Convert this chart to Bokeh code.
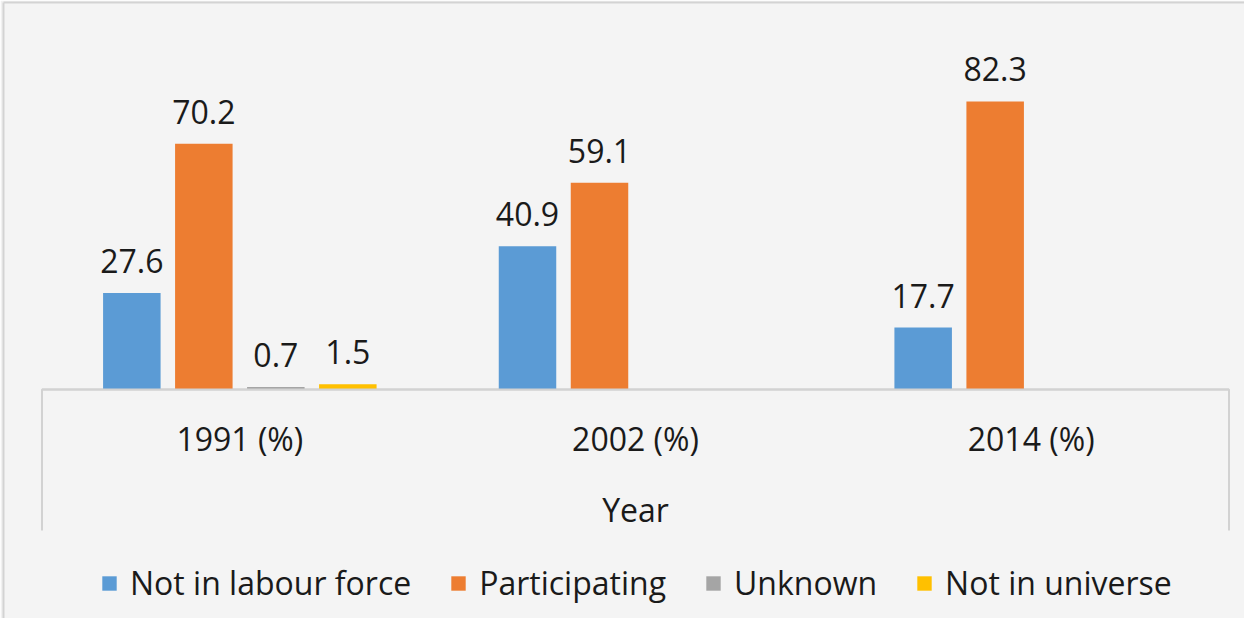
from bokeh.plotting import figure
from bokeh.models import (Range1d, LinearAxis, FixedTicker, Legend, LegendItem,
                          ColumnDataSource, Label)
from bokeh.core.properties import value
from bokeh.embed import file_html
from bokeh.resources import INLINE

# ---------------- data ----------------
categories = ["1991 (%)", "2002 (%)", "2014 (%)"]
series_names = ["Not in labour force", "Participating", "Unknown", "Not in universe"]
not_in_labour_force = [27.6, 40.9, 17.7]
participating = [70.2, 59.1, 82.3]
unknown = [0.7, None, None]
not_in_universe = [1.5, None, None]
series_values = [not_in_labour_force, participating, unknown, not_in_universe]
series_colors = ["#5b9bd5", "#ed7d31", "#a5a5a5", "#ffc000"]
x_title = "Year"

# ---------------- layout helpers ----------------
W, H = 1244, 618
PAGE = 8
frame_left, frame_top, frame_right, frame_bottom = 11, 10, 1252, 626
box_left, box_right = 49.5, 1236.5
XU = (box_right - box_left) / len(categories)   # px per category
Y0 = 397.0                                       # page y of value 0
YU = 3.5                                         # px per unit


def xd(px):
    return (px - box_left) / XU


def yd(py):
    return (Y0 - py) / YU


FONT = "Open Sans"
TEXT_COLOR = "#1a1a1a"

p = figure(width=W, height=H, output_backend="svg", toolbar_location=None,
           x_axis_type=None, y_axis_type=None,
           x_range=Range1d(xd(frame_left), xd(frame_right)),
           y_range=Range1d(yd(frame_bottom), yd(frame_top)),
           min_border_left=frame_left - PAGE, min_border_top=frame_top - PAGE,
           min_border_right=0, min_border_bottom=0)
p.background_fill_color = "#f4f4f4"
p.border_fill_color = "#f1f1f1"
p.outline_line_color = None
p.xgrid.visible = False
p.ygrid.visible = False

# chart-area border (top and left edges) drawn as bare axis lines
for loc in ("left", "above"):
    ax = LinearAxis(ticker=FixedTicker(ticks=[]), major_tick_out=0, major_tick_in=0,
                    minor_tick_out=0, minor_tick_in=0, major_label_standoff=0,
                    major_label_text_font_size="0px",
                    axis_line_color="#d3d3d3", axis_line_width=2)
    p.add_layout(ax, loc)

# category axis box
p.line(x=[0, 0, len(categories), len(categories)], y=[yd(538), 0, 0, yd(538)],
       line_color="#d2d2d2", line_width=2)

# bars
pitch = 72.0 / XU
bw = 57.5 / XU
n = len(series_names)
legend_items = []
for k, (name, vals, col) in enumerate(zip(series_names, series_values, series_colors)):
    off = (k - (n - 1) / 2) * pitch
    xs, tops, labels = [], [], []
    for i, v in enumerate(vals):
        if v is None:
            continue
        xs.append(i + 0.5 + off)
        tops.append(v)
        labels.append(f"{v:.1f}")
    src = ColumnDataSource(dict(x=xs, top=tops, label=labels))
    r = p.vbar(x="x", top="top", bottom=0, width=bw, source=src,
               fill_color=col, line_color=None)
    p.text(x="x", y="top", text="label", source=src, y_offset=-32,
           text_align="center", text_baseline="alphabetic",
           text_font=value(FONT), text_font_size="32px", text_color=TEXT_COLOR)
    legend_items.append(LegendItem(label=name, renderers=[r]))

# redraw box top line over bar bottoms
p.line(x=[0, len(categories)], y=[0, 0], line_color="#d2d2d2", line_width=2)

# category labels
p.text(x=[i + 0.5 for i in range(len(categories))], y=[yd(446)] * len(categories),
       text=categories, text_align="center", text_baseline="alphabetic",
       text_font=value(FONT), text_font_size="32px", text_color=TEXT_COLOR)

# axis title
p.add_layout(Label(x=len(categories) / 2, y=yd(517), text=x_title,
                   text_align="center", text_baseline="alphabetic",
                   text_font=FONT, text_font_size="32px", text_color=TEXT_COLOR))

legend = Legend(items=legend_items, orientation="horizontal",
                location=(108 - frame_left, 14),
                glyph_width=18, glyph_height=18, label_standoff=12, spacing=38,
                padding=0, margin=0, border_line_color=None,
                background_fill_alpha=0,
                label_text_font=FONT, label_text_font_size="32px",
                label_text_color=TEXT_COLOR)
p.add_layout(legend)

open("out.html", "w").write(file_html(p, INLINE))
